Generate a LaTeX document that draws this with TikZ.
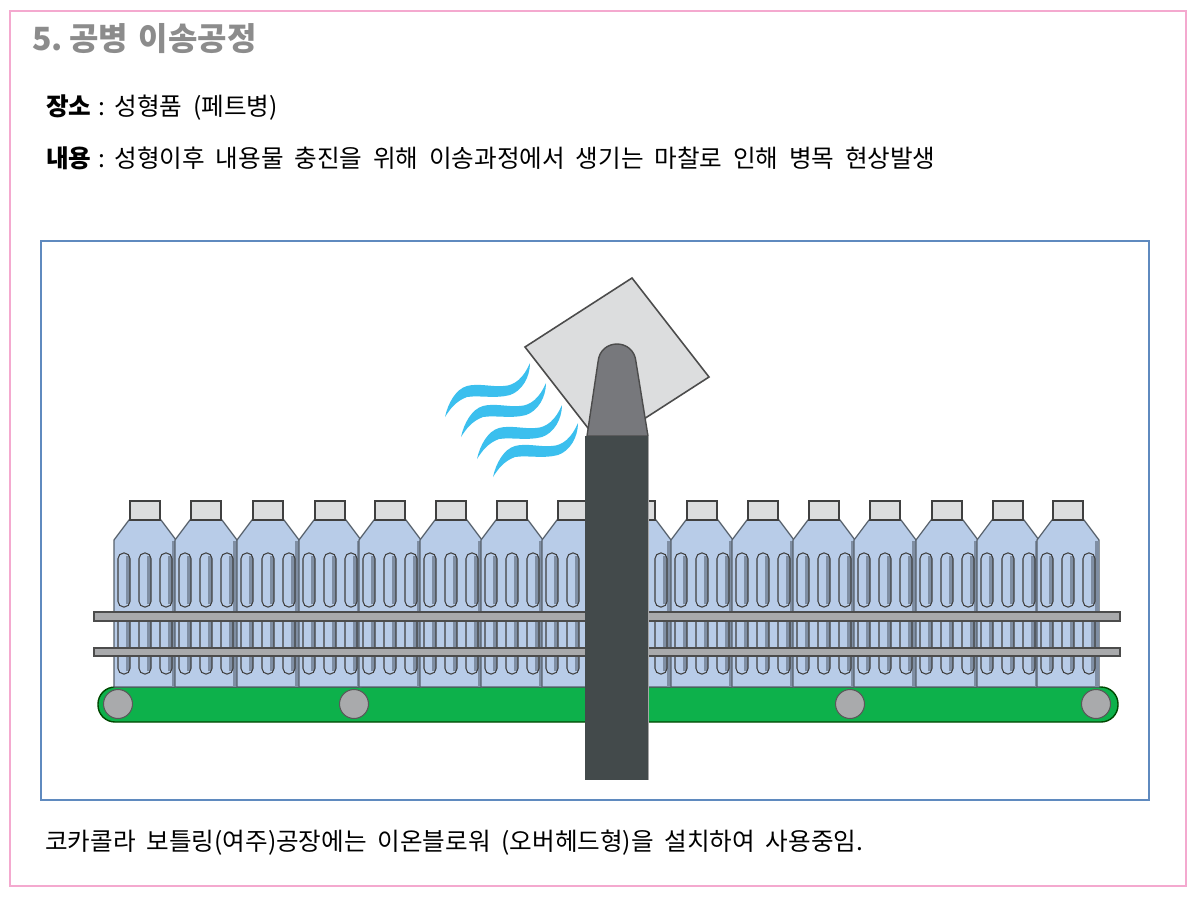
\documentclass[tikz,border=0pt]{standalone}
\usepackage{fontspec}
\setmainfont[WordSpace=1.95]{Noto Sans CJK KR}
\definecolor{framepink}{HTML}{F4A9CF}
\definecolor{frameblue}{HTML}{5F8ABF}
\definecolor{petblue}{HTML}{B8CCE8}
\definecolor{petedge}{HTML}{56606B}
\definecolor{petshade}{HTML}{7F8EA3}
\definecolor{capgrey}{HTML}{DCDDDE}
\definecolor{railgrey}{HTML}{A9AAAC}
\definecolor{beltgreen}{HTML}{0DB14B}
\definecolor{postdark}{HTML}{434A4B}
\definecolor{nozzlegrey}{HTML}{77787C}
\definecolor{windblue}{HTML}{3BBFEE}
\begin{document}
\begin{tikzpicture}[x=0.02cm,y=-0.02cm]
  \tikzstyle{titletext}=[anchor=base west,inner sep=0pt,text=black!45,font=\fontsize{18.2}{21}\selectfont\bfseries]
  \tikzstyle{bodytext}=[anchor=base west,inner sep=0pt,font=\fontsize{14}{16}\selectfont]
  \tikzstyle{petbody}=[draw=petedge,fill=petblue,line width=0.7pt]
  \tikzstyle{petcap}=[draw=black!75,fill=capgrey,line width=0.8pt]
  \tikzstyle{petslot}=[draw=black!75,line width=0.6pt,rounded corners=3.2pt]
  \tikzstyle{rail}=[draw=black!70,fill=railgrey,line width=0.6pt]
  \tikzstyle{roller}=[circle,draw=black!65,fill=railgrey,line width=0.6pt,minimum size=0.58cm,inner sep=0pt]
  \tikzstyle{wind}=[fill=windblue]
  \useasboundingbox (0,0) rectangle (1200,900);
  \fill [white] (0,0) rectangle (1200,900);
  \draw [framepink,line width=1pt] (10,11) rectangle (1186,886);
  \draw [frameblue,line width=0.8pt] (41,241) rectangle (1149,800);
  \node [titletext] (title) at (32,50) {5.\hspace{-6pt} 공병\hspace{-2pt} 이송공정};
  \node [bodytext] (place) at (46,115) {\textbf{장소}\hspace{-2pt} :\hspace{-2pt} 성형품 (페트병)};
  \node [bodytext] (content) at (46,167) {\textbf{내용}\hspace{-2pt} :\hspace{-2pt} 성형이후 내용물 충진을 위해 이송과정에서 생기는 마찰로 인해 병목 현상발생};
  \node [bodytext] (note) at (45,850) {코카콜라 보틀링(여주)공장에는 이온블로워 (오버헤드형)을 설치하여 사용중임.};
  \draw [fill=beltgreen,draw=black!60!green!70!black,line width=0.8pt,rounded corners=0.34cm] (98,687) rectangle (1118,722);
  \foreach \bx in {145,206,268,330,390,451,512,573,640,702,763,824,885,947,1008,1068} {
    \draw [petbody] (\bx-31,687) -- (\bx-31,540) -- (\bx-16,520) -- (\bx+16,520) -- (\bx+31,540) -- (\bx+31,687) -- cycle;
    \fill [petshade] (\bx+27,541) rectangle (\bx+31,687);
    \draw [petcap] (\bx-15,501) rectangle (\bx+15,520);
    \foreach \sx in {-21,0,21} {
      \fill [petshade] (\bx+\sx+2,556) rectangle (\bx+\sx+6,604);
      \fill [petshade] (\bx+\sx+2,622) rectangle (\bx+\sx+6,671);
      \draw [petslot] (\bx+\sx-6,622) -- (\bx+\sx-6,674) -- (\bx+\sx+6,674) -- (\bx+\sx+6,622);
      \draw [petslot] (\bx+\sx-6,553) rectangle (\bx+\sx+6,607);
    }
  }
  \draw [rail] (94,612) rectangle (1120,621);
  \draw [rail] (94,648) rectangle (1120,656);
  \foreach \rx in {118,354,850,1096} {
    \node [roller] (roller\rx) at (\rx,704) {};
  }
  \foreach \wx/\wy in {530/363,546/383,562/405,578/423} {
    \fill [wind] (\wx,\wy) .. controls (\wx-6,\wy+14) and (\wx-15,\wy+23) .. (\wx-27,\wy+23)
      .. controls (\wx-38,\wy+24) and (\wx-52,\wy+20) .. (\wx-63,\wy+23)
      .. controls (\wx-74,\wy+26) and (\wx-82,\wy+40) .. (\wx-85,\wy+54)
      .. controls (\wx-80,\wy+46) and (\wx-74,\wy+38) .. (\wx-63,\wy+34)
      .. controls (\wx-50,\wy+32) and (\wx-35,\wy+36) .. (\wx-20,\wy+32)
      .. controls (\wx-8,\wy+28) and (\wx,\wy+14) .. (\wx,\wy) -- cycle;
  }
  \draw [draw=black!70,fill=capgrey,line width=0.9pt] (525,347) -- (632,278) -- (709,377) -- (602,446) -- cycle;
  \draw [draw=black!70,fill=nozzlegrey,line width=0.8pt] (587,436) -- (598,362) .. controls (600,338) and (634,338) .. (636,362) -- (648,436) -- cycle;
  \fill [postdark] (585,436) rectangle (648,780);
  \draw [black!35,line width=0.8pt] (648.5,436) -- (648.5,780);
\end{tikzpicture}
\end{document}
